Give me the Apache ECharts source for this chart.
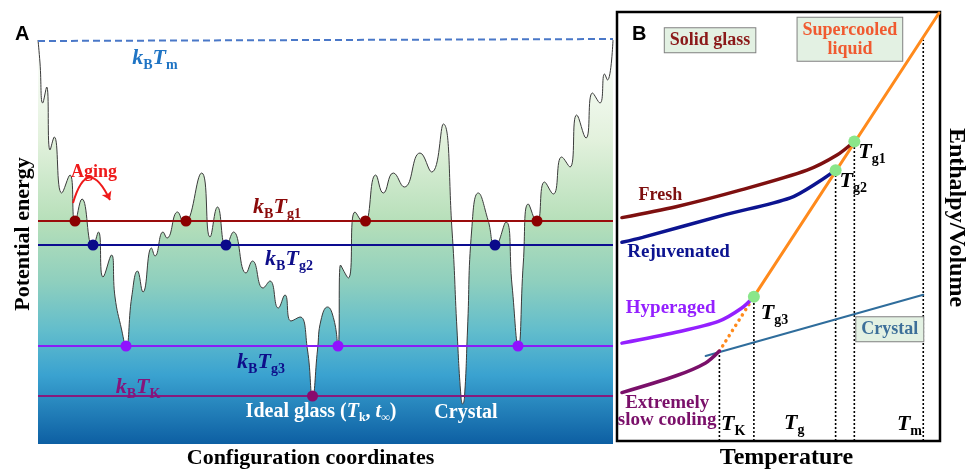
<!DOCTYPE html>
<html>
<head>
<meta charset="utf-8">
<script src="https://cdn.jsdelivr.net/npm/echarts@6.0.0/dist/echarts.min.js"></script>
<style>
  html, body { margin:0; padding:0; background:#fff; }
  #chart { width:969px; height:475px; }
</style>
</head>
<body>
<div id="chart"></div>
<script>
// ===== Panel A data: energy landscape (config coordinate, potential energy) =====
const landscape = [
  [0,404],[2,381],[4.7,341],[8.7,357],[12,294],[16.3,307],[23.7,251],[32,269],[37,222],[44,245],
  [54.7,197],[60.5,212],[65,167],[73.5,189],[77,147],[83.7,114],[88,97],[93.7,147],[99.5,173],[105,152],
  [113.5,196],[117,188],[125,212],[129,206],[139.5,232],[146,220],[163.7,271],[172,207],[179.5,237],[188,197],
  [195.5,212],[208,171],[214.5,183],[225,156],[232,163],[240.3,136],[247,149],[253,123],[262,127],[269.5,94],
  [274.5,47],[279.5,94],[283,124],[289.5,137],[296,124],[300,97],[302.5,179],[310.3,166],[317,232],[326,220],
  [337.7,269],[345.3,251],[355.3,271],[366.3,257],[382,291],[393.7,272],[405.3,320],[414,214],[419,114],[423,47],
  [424.7,40],[426.5,47],[429.5,114],[433.7,214],[440.3,251],[450,224],[457,197],[468,222],[474,159],[480.3,97],
  [485.3,181],[490.3,240],[499,221],[506.5,262],[515.3,250],[523.7,287],[532,277],[538.7,329],[548,306],[554.5,351],
  [562,341],[566.5,370],[569.5,364],[575,404]
];
const levelTm  = 404;
const levelTg1 = 223;
const levelTg2 = 199;
const levelTg3 = 98;
const levelTK  = 48;
const dotsTg1 = [37, 148, 327.5, 499];
const dotsTg2 = [55, 188, 457];
const dotsTg3 = [88, 300, 480];
const dotsTK  = [274.5];

// ===== Panel B data: enthalpy vs temperature =====
const liquidLine   = [[139,146],[327,433]];
const liquidExtrap = [[104,91],[139,146]];
const fresh        = [[5,226],[60,237],[126,254],[193,274],[223,289],[241,303]];
const rejuvenated  = [[5,201],[26,206],[110,229],[176,246],[206,263],[222,274]];
const hyperaged    = [[5,99],[60,110],[103,121],[126,134],[139,146]];
const slowCooling  = [[5,49],[60,66],[90,79],[104,91]];
const crystalLine  = [[90,86],[311,148]];
const glassPoints  = [[241,303],[222,274],[139,146]];
const dropTemps    = [104, 139, 222, 241, 311];
const dropTops     = [91, 146, 274, 303, 406];

const SERIF = '"Liberation Serif", "Times New Roman", serif';

const chart = echarts.init(document.getElementById('chart'), null, { renderer:'canvas' });

// rich text pieces
const rich = {
  k:  { fontFamily:SERIF, fontStyle:'italic', fontWeight:'bold', fontSize:22 },
  s:  { fontFamily:SERIF, fontWeight:'bold', fontSize:14, padding:[14,0,0,0] },
  w:  { fontFamily:SERIF, fontWeight:'bold', fontSize:20 },
  wi: { fontFamily:SERIF, fontWeight:'bold', fontStyle:'italic', fontSize:20 },
  ws: { fontFamily:SERIF, fontWeight:'bold', fontSize:12, padding:[12,0,0,0] }
};
const kbT = sub => '{k|k}{s|B}{k|T}{s|' + sub + '}';
const tSub = sub => '{k|T}{s|' + sub + '}';

function hLine(level, color, type){
  return { type:'line', xAxisIndex:0, yAxisIndex:0, data:[[0,level],[575,level]],
    symbol:'none', silent:true, z:3, lineStyle:{ color, width:2, type: type || 'solid' } };
}
function dots(xs, level, color){
  return { type:'scatter', xAxisIndex:0, yAxisIndex:0, data: xs.map(x => [x, level]),
    symbolSize:11, itemStyle:{ color, opacity:1 }, z:5 };
}
function bLine(data, color, width, type){
  return { type:'line', xAxisIndex:1, yAxisIndex:1, data, symbol:'none', smooth:0.3,
    lineStyle:{ color, width, type: type || 'solid', cap:'round' }, z:3 };
}
function note(x, y, text, color, size, extra){
  return { value:[x, y], label:Object.assign({ show:true, position:'inside', formatter:text, color, rich,
    fontFamily:SERIF, fontWeight:'bold', fontSize:size || 17, opacity:1 }, extra || {}) };
}
const boxStyle = { backgroundColor:'#e3f1e3', borderColor:'#808080', borderWidth:1, padding:[3,5,2,5], lineHeight:19 };
const textLayer = { type:'scatter', symbolSize:0, z:7, itemStyle:{ opacity:1 } };

const option = {
  animation:false,
  title:[
    { text:'A', left:10, top:19, textStyle:{ fontFamily:'"Liberation Sans", Arial', fontWeight:'bold', fontSize:20, color:'#000' } },
    { text:'B', left:627, top:19, textStyle:{ fontFamily:'"Liberation Sans", Arial', fontWeight:'bold', fontSize:20, color:'#000' } }
  ],
  grid:[
    { left:38, top:34, width:575, height:410 },
    { left:617, top:12, width:328, height:434, show:true, borderColor:'#000', borderWidth:2.5 }
  ],
  xAxis:[
    { gridIndex:0, type:'value', min:0, max:575, axisLine:{show:false}, axisTick:{show:false},
      axisLabel:{show:false}, splitLine:{show:false},
      name:'Configuration coordinates', nameLocation:'middle', nameGap:3,
      nameTextStyle:{ fontFamily:SERIF, fontWeight:'bold', fontSize:22, color:'#000', padding:[0,30,0,0] } },
    { gridIndex:1, type:'value', min:0, max:328, axisLine:{show:false}, axisTick:{show:false},
      axisLabel:{show:false}, splitLine:{show:false},
      name:'Temperature', nameLocation:'middle', nameGap:5,
      nameTextStyle:{ fontFamily:SERIF, fontWeight:'bold', fontSize:24, color:'#000', padding:[0,0,0,16] } }
  ],
  yAxis:[
    { gridIndex:0, type:'value', min:0, max:410, axisLine:{show:false}, axisTick:{show:false},
      axisLabel:{show:false}, splitLine:{show:false},
      name:'Potential energy', nameLocation:'middle', nameGap:4,
      nameTextStyle:{ fontFamily:SERIF, fontWeight:'bold', fontSize:22, color:'#000', padding:[0,0,0,10] } },
    { gridIndex:1, type:'value', min:0, max:434, position:'right', axisLine:{show:false}, axisTick:{show:false},
      axisLabel:{show:false}, splitLine:{show:false},
      name:'Enthalpy/Volume', nameLocation:'middle', nameGap:4, nameRotate:-90,
      nameTextStyle:{ fontFamily:SERIF, fontWeight:'bold', fontSize:24, color:'#000', padding:[0,18,0,0] } }
  ],
  series:[
    // ---- Panel A ----
    { type:'line', xAxisIndex:0, yAxisIndex:0, data:landscape, symbol:'none', smooth:0.5, z:2,
      lineStyle:{ color:'#3a3a3a', width:1 },
      areaStyle:{ opacity:1, color: new echarts.graphic.LinearGradient(0,0,0,1,[
        { offset:0,    color:'#ffffff' },
        { offset:0.25, color:'#e2f1dc' },
        { offset:0.45, color:'#b6dfb9' },
        { offset:0.6,  color:'#8ecfbe' },
        { offset:0.72, color:'#62bdcc' },
        { offset:0.83, color:'#3aa2d0' },
        { offset:1,    color:'#0d5fa3' }
      ]) } },
    { type:'line', xAxisIndex:0, yAxisIndex:0, data:[[0,levelTm - 1],[575,levelTm + 1]], symbol:'none', z:3,
      lineStyle:{ color:'#4a78c8', width:2, type:[7,4] } },
    hLine(levelTg1, '#9a0c0c'),
    hLine(levelTg2, '#0c0c90'),
    hLine(levelTg3, '#8a1cf6'),
    hLine(levelTK,  '#871a7c'),
    dots(dotsTg1, levelTg1, '#8b0000'),
    dots(dotsTg2, levelTg2, '#0a0a8a'),
    dots(dotsTg3, levelTg3, '#9012fe'),
    dots(dotsTK,  levelTK,  '#8a0a6e'),
    { type:'lines', coordinateSystem:'cartesian2d', xAxisIndex:0, yAxisIndex:0, z:6,
      data:[{ coords:[[35,241],[72,244]] }], symbol:['none','arrow'], symbolSize:8,
      lineStyle:{ color:'#ee1a1a', width:2, curveness:1.3, opacity:1 } },
    Object.assign({}, textLayer, { xAxisIndex:0, yAxisIndex:0, data:[
      note(117, 386, kbT('m'),  '#1f74c4'),
      note(239, 237, kbT('g1'), '#8b0a0a'),
      note(251, 185, kbT('g2'), '#0e0e8a'),
      note(223, 82,  kbT('g3'), '#0e0e8a'),
      note(100, 57,  kbT('K'),  '#86147c'),
      note(56, 272, 'Aging', '#ee1a1a', 18),
      note(283, 32, '{w|Ideal glass (}{wi|T}{ws|k}{w|, }{wi|t}{ws|∞}{w|)}', '#ffffff'),
      note(428, 31, 'Crystal', '#ffffff', 20)
    ] }),

    // ---- Panel B ----
    bLine(liquidExtrap, '#ff8a1c', 3.5, [0.1,6]),
    bLine(crystalLine, '#2f6d9c', 2),
    bLine(liquidLine, '#ff8a1c', 3),
    bLine(fresh, '#7e1010', 3.5),
    bLine(rejuvenated, '#0c1490', 3.5),
    bLine(hyperaged, '#9420ff', 3.5),
    bLine(slowCooling, '#7a106a', 3.5),
    ...dropTemps.map((t, i) => ({ type:'line', xAxisIndex:1, yAxisIndex:1, symbol:'none', z:2,
      data:[[t,0],[t,dropTops[i]]], lineStyle:{ color:'#000', width:1.6, type:[2,2] } })),
    { type:'scatter', xAxisIndex:1, yAxisIndex:1, data:glassPoints, symbolSize:12, z:6,
      itemStyle:{ color:'#8ae68a', opacity:1 } },
    Object.assign({}, textLayer, { xAxisIndex:1, yAxisIndex:1, data:[
      note(259, 292, tSub('g1'), '#000'),
      note(240, 263, tSub('g2'), '#000'),
      note(160, 129, tSub('g3'), '#000'),
      note(118, 17, tSub('K'), '#000'),
      note(180, 18, tSub('g'), '#000'),
      note(297, 17, tSub('m'), '#000'),
      note(94.5, 405.5, 'Solid glass', '#8b1a1a', 18, boxStyle),
      note(236.5, 406.5, 'Supercooled\nliquid', '#f05a30', 18, boxStyle),
      note(277, 113, 'Crystal', '#3d6f99', 18, boxStyle),
      note(44, 249, 'Fresh', '#7e1010', 18),
      note(62.5, 191.5, 'Rejuvenated', '#0c1490', 19),
      note(54.5, 134, 'Hyperaged', '#9420ff', 19),
      note(51, 30, 'Extremely\nslow cooling', '#7a106a', 19, { lineHeight:17 })
    ] })
  ]
};

chart.setOption(option);
</script>
</body>
</html>
